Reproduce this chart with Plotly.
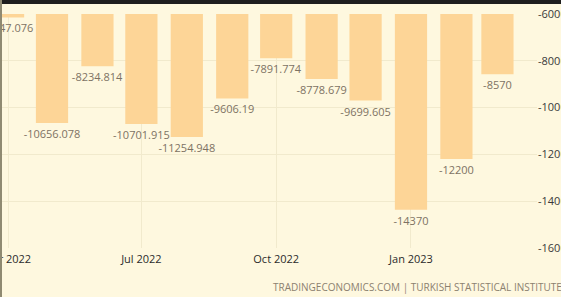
import plotly.graph_objects as go

months = ["2022-04-01", "2022-05-01", "2022-06-01", "2022-07-01", "2022-08-01",
          "2022-09-01", "2022-10-01", "2022-11-01", "2022-12-01", "2023-01-01",
          "2023-02-01", "2023-03-01"]
balance = [-6147.076, -10656.078, -8234.814, -10701.915, -11254.948,
           -9606.19, -7891.774, -8778.679, -9699.605, -14370,
           -12200, -8570]
labels = [str(v) for v in balance]

y_ticks = [-6000, -8000, -10000, -12000, -14000, -16000]
source_text = "TRADINGECONOMICS.COM | TURKISH STATISTICAL INSTITUTE"

BG = "#FEF8DF"
BAR = "#FDD597"
GRID = "#F1EACD"
FONT = "Open Sans"

fig = go.Figure()
fig.add_trace(go.Bar(
    x=months, y=balance, text=labels,
    textposition="outside", constraintext="none", cliponaxis=True,
    textfont=dict(family=FONT, size=11, color="#7d7263"),
    marker=dict(color=BAR, line=dict(width=0)),
    width=1.9e9,
    hoverinfo="skip",
))

fig.update_layout(
    width=561, height=297,
    margin=dict(l=0, r=24, t=14, b=49, autoexpand=False),
    paper_bgcolor=BG, plot_bgcolor=BG,
    showlegend=False,
    xaxis=dict(
        type="date", range=["2022-03-26 12:00", "2023-03-28"],
        tick0="2022-01-01", dtick="M3", tickformat="%b %Y",
        showgrid=True, gridcolor=GRID, gridwidth=1,
        zeroline=False, showline=False, ticks="",
        automargin=False, ticklabeloverflow="allow", ticklabelstandoff=3,
        tickfont=dict(family=FONT, size=11, color="#2b2b2b"),
    ),
    yaxis=dict(
        side="right", range=[-16000, -6000],
        tickvals=y_ticks, ticktext=[str(v) for v in y_ticks],
        showgrid=True, gridcolor=GRID, gridwidth=1,
        zeroline=False, showline=False, ticks="",
        automargin=False, ticklabeloverflow="allow",
        tickfont=dict(family=FONT, size=11, color="#3a3a3a"),
    ),
    annotations=[dict(
        text=source_text, xref="paper", yref="paper",
        x=1.05, y=0, yshift=-39, xanchor="right", yanchor="middle",
        showarrow=False, font=dict(family=FONT, size=10, color="#8c8170"),
    )],
    shapes=[
        dict(type="rect", xref="paper", yref="paper", x0=0, x1=1.1,
             y0=1.0 + 10 / 234, y1=1.0 + 14 / 234,
             fillcolor="#1e1e1e", line=dict(width=0), layer="above"),
        dict(type="rect", xref="paper", yref="paper", x0=0, x1=2 / 537,
             y0=-49 / 234, y1=1.0 + 14 / 234,
             fillcolor="#8f8a72", line=dict(width=0), layer="above"),
    ],
)

fig.write_html("out.html")
